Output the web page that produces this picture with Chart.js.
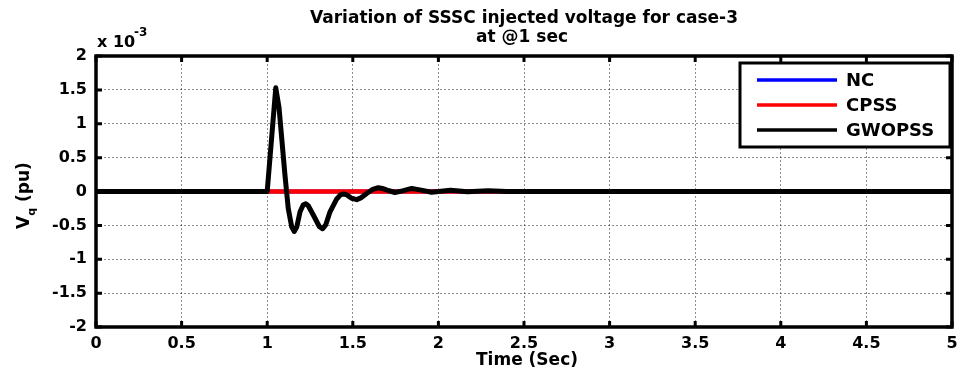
<!DOCTYPE html>
<html>
<head>
<meta charset="utf-8">
<script src="https://cdn.jsdelivr.net/npm/chart.js@4"></script>
<style>
html,body{margin:0;padding:0;background:#fff;}
canvas{display:block;}
</style>
</head>
<body>
<canvas id="c" width="957" height="374"></canvas>
<script>
// ---- data (values in units of 1e-3 pu) ----
const titleLines = ["Variation of SSSC injected voltage for case-3", "at @1 sec"];
const xTitle = "Time (Sec)";
const seriesNames = ["NC", "CPSS", "GWOPSS"];
const seriesColors = ["#0000ff", "#ff0000", "#000000"];

const ncTime = [0, 5];
const ncValues = [0, 0];

const cpssTime = [0, 5];
const cpssValues = [0, 0];

const gwoTime   = [0, 1.0, 1.05, 1.069, 1.104, 1.123, 1.143, 1.158, 1.173, 1.192, 1.21, 1.225, 1.24, 1.27, 1.305, 1.324, 1.342, 1.367, 1.406, 1.428, 1.445, 1.465, 1.493, 1.523, 1.55, 1.581, 1.615, 1.649, 1.68, 1.707, 1.746, 1.79, 1.844, 1.9, 1.96, 2.07, 2.17, 2.29, 2.4, 5];
const gwoValues = [0, 0,   1.53, 1.24,  0.235, -0.25, -0.52, -0.59, -0.52, -0.30, -0.20, -0.18, -0.21, -0.35, -0.52, -0.55, -0.49, -0.30, -0.11, -0.05, -0.034, -0.05, -0.10, -0.12, -0.09, -0.03, 0.03, 0.055, 0.04, 0.015, -0.015, 0.01, 0.045, 0.02, -0.01, 0.02, -0.005, 0.01, 0, 0];

const xTicks = [0, 0.5, 1, 1.5, 2, 2.5, 3, 3.5, 4, 4.5, 5];
const yTicks = [-2, -1.5, -1, -0.5, 0, 0.5, 1, 1.5, 2];

const toPts = (t, v) => t.map((x, i) => ({x: x, y: v[i]}));

const FONT = "'DejaVu Sans', sans-serif";

const framePlugin = {
  id: 'frame',
  afterDraw(chart) {
    const ctx = chart.ctx;
    const a = chart.chartArea;
    const xs = chart.scales.x, ys = chart.scales.y;
    ctx.save();
    // inward ticks
    ctx.strokeStyle = '#000';
    ctx.lineWidth = 3;
    ctx.beginPath();
    xTicks.forEach(t => {
      const px = xs.getPixelForValue(t);
      ctx.moveTo(px, a.bottom); ctx.lineTo(px, a.bottom - 6);
      ctx.moveTo(px, a.top); ctx.lineTo(px, a.top + 6);
    });
    yTicks.forEach(t => {
      const py = ys.getPixelForValue(t);
      ctx.moveTo(a.left, py); ctx.lineTo(a.left + 6, py);
      ctx.moveTo(a.right, py); ctx.lineTo(a.right - 6, py);
    });
    ctx.stroke();
    // frame
    ctx.lineWidth = 3.5;
    ctx.strokeRect(a.left, a.top, a.right - a.left, a.bottom - a.top);

    // title
    ctx.fillStyle = '#000';
    ctx.textAlign = 'center';
    ctx.textBaseline = 'middle';
    ctx.font = "bold 17px " + FONT;
    const cx = (a.left + a.right) / 2;
    ctx.fillText(titleLines[0], cx, 19);
    ctx.fillText(titleLines[1], cx - 2, 38);

    // x title
    ctx.font = "bold 17px " + FONT;
    ctx.fillText(xTitle, cx + 3, 361);

    // exponent label
    ctx.textAlign = 'left';
    ctx.font = "bold 16px " + FONT;
    ctx.fillText("x 10", 97, 43);
    ctx.font = "bold 12px " + FONT;
    ctx.fillText("-3", 134, 33);

    // y title: V_q (pu)
    ctx.save();
    ctx.translate(25, 229);
    ctx.rotate(-Math.PI / 2);
    ctx.textAlign = 'left';
    ctx.textBaseline = 'middle';
    ctx.font = "bold 17px " + FONT;
    ctx.fillText("V", 0, 0);
    const vw = ctx.measureText("V").width;
    ctx.font = "bold 11px " + FONT;
    ctx.fillText("q", vw, 7);
    const qw = ctx.measureText("q").width;
    ctx.font = "bold 17px " + FONT;
    ctx.fillText(" (pu)", vw + qw, 0);
    ctx.restore();

    // legend
    const lx = 740, ly = 63, lw = 210, lh = 84;
    ctx.fillStyle = '#fff';
    ctx.fillRect(lx, ly, lw, lh);
    ctx.strokeStyle = '#000';
    ctx.lineWidth = 3;
    ctx.strokeRect(lx, ly, lw, lh);
    ctx.font = "bold 18px " + FONT;
    ctx.textAlign = 'left';
    ctx.textBaseline = 'middle';
    const rows = [80, 105, 130];
    seriesNames.forEach((n, i) => {
      ctx.strokeStyle = seriesColors[i];
      ctx.lineWidth = 3.5;
      ctx.beginPath();
      ctx.moveTo(757, rows[i]); ctx.lineTo(837, rows[i]);
      ctx.stroke();
      ctx.fillStyle = '#000';
      ctx.fillText(n, 846, rows[i] + 1);
    });
    ctx.restore();
  }
};

new Chart(document.getElementById('c'), {
  type: 'line',
  data: {
    datasets: [
      {label: seriesNames[0], data: toPts(ncTime, ncValues), borderColor: seriesColors[0], borderWidth: 4, pointRadius: 0, order: 2},
      {label: seriesNames[1], data: toPts(cpssTime, cpssValues), borderColor: seriesColors[1], borderWidth: 4.5, pointRadius: 0, order: 1},
      {label: seriesNames[2], data: toPts(gwoTime, gwoValues), borderColor: seriesColors[2], borderWidth: 5, pointRadius: 0, order: 0, tension: 0, borderJoinStyle: 'round', borderCapStyle: 'round'}
    ]
  },
  options: {
    responsive: false,
    animation: false,
    layout: {padding: {left: 0, top: 56, right: 5, bottom: 0}},
    plugins: {legend: {display: false}, tooltip: {enabled: false}, title: {display: false}},
    scales: {
      x: {
        type: 'linear', min: 0, max: 5,
        afterBuildTicks: s => { s.ticks = xTicks.map(v => ({value: v})); },
        afterFit: s => { s.height = 47; s.paddingLeft = 0; s.paddingRight = 0; },
        grid: {color: 'rgba(0,0,0,0.45)', lineWidth: 1, drawTicks: false},
        border: {display: false, dash: [2, 2]},
        ticks: {
          autoSkip: false, maxRotation: 0, padding: 7, color: '#000',
          font: {family: FONT, size: 16, weight: 'bold'},
          callback: v => String(Math.round(v * 10) / 10)
        }
      },
      y: {
        type: 'linear', min: -2, max: 2,
        afterBuildTicks: s => { s.ticks = yTicks.map(v => ({value: v})); },
        afterFit: s => { s.width = 96; s.paddingTop = 0; s.paddingBottom = 0; },
        grid: {color: 'rgba(0,0,0,0.45)', lineWidth: 1, drawTicks: false},
        border: {display: false, dash: [2, 2]},
        ticks: {
          padding: 9, color: '#000',
          font: {family: FONT, size: 16, weight: 'bold'},
          callback: v => String(Math.round(v * 10) / 10)
        }
      }
    }
  },
  plugins: [framePlugin]
});
</script>
</body>
</html>
